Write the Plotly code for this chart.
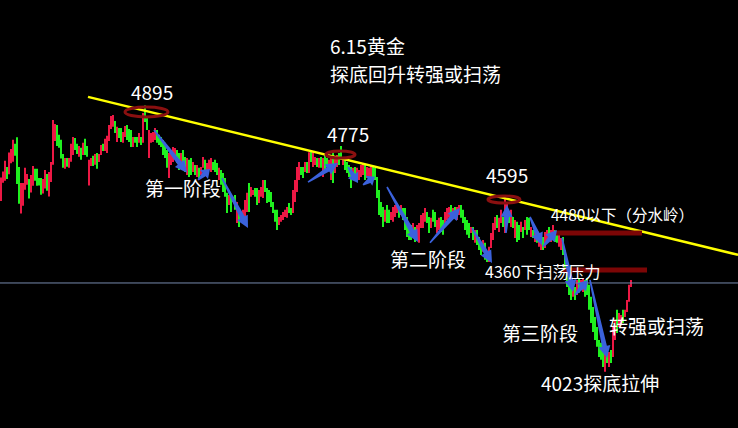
import math
import plotly.graph_objects as go

# ---------------- data ----------------
# bar highs / lows (price) for each bar, in time order
highs = [
    4660, 4679, 4714, 4694, 4741, 4752, 4782, 4769, 4790, 4694,
    4642, 4642, 4691, 4671, 4655, 4668, 4697, 4688, 4688, 4658,
    4658, 4655, 4684, 4671, 4678, 4710, 4846, 4833, 4830, 4798,
    4782, 4736, 4723, 4723, 4723, 4769, 4791, 4788, 4769, 4762,
    4756, 4772, 4785, 4762, 4717, 4723, 4730, 4736, 4739, 4736,
    4765, 4769, 4785, 4795, 4830, 4859, 4862, 4843, 4824, 4820,
    4820, 4807, 4827, 4830, 4817, 4814, 4791, 4791, 4791, 4804,
    4791, 4869, 4893, 4853, 4814, 4804, 4807, 4820, 4814, 4798,
    4791, 4781, 4772, 4749, 4739, 4749, 4759, 4755, 4749, 4739,
    4739, 4749, 4726, 4723, 4717, 4723, 4710, 4700, 4700, 4691,
    4694, 4726, 4717, 4707, 4717, 4723, 4710, 4717, 4707, 4691,
    4684, 4674, 4658, 4610, 4603, 4597, 4597, 4603, 4580, 4555,
    4545, 4555, 4587, 4610, 4642, 4629, 4619, 4626, 4626, 4619,
    4629, 4652, 4652, 4626, 4619, 4613, 4580, 4555, 4555, 4532,
    4538, 4548, 4555, 4564, 4577, 4561, 4619, 4652, 4694, 4710,
    4694, 4694, 4710, 4710, 4742, 4749, 4742, 4726, 4723, 4723,
    4726, 4723, 4733, 4723, 4717, 4733, 4739, 4726, 4733, 4739,
    4762, 4723, 4717, 4710, 4700, 4694, 4691, 4694, 4691, 4684,
    4700, 4707, 4700, 4694, 4691, 4700, 4694, 4691, 4661, 4619,
    4580, 4564, 4555, 4571, 4555, 4548, 4564, 4571, 4577, 4564,
    4571, 4561, 4561, 4532, 4499, 4506, 4512, 4499, 4506, 4512,
    4538, 4545, 4561, 4548, 4532, 4529, 4555, 4548, 4522, 4529,
    4532, 4522, 4548, 4561, 4564, 4571, 4561, 4564, 4564, 4571,
    4571, 4555, 4532, 4522, 4512, 4499, 4499, 4490, 4490, 4467,
    4448, 4457, 4448, 4402, 4435, 4480, 4512, 4532, 4538, 4529,
    4555, 4532, 4596, 4577, 4548, 4555, 4532, 4522, 4516, 4506,
    4516, 4499, 4522, 4532, 4529, 4499, 4490, 4496, 4480, 4467,
    4457, 4467, 4483, 4490, 4499, 4490, 4506, 4490, 4483, 4480,
    4464, 4467, 4425, 4383, 4350, 4328, 4318, 4305, 4328, 4334,
    4328, 4334, 4328, 4334, 4312, 4273, 4240, 4208, 4175, 4133,
    4124, 4101, 4111, 4091, 4094, 4101, 4175, 4198, 4231, 4221,
    4214, 4231, 4231, 4263, 4312, 4328,
]
lows = [
    4584, 4643, 4649, 4655, 4670, 4706, 4711, 4730, 4639, 4575,
    4543, 4568, 4620, 4636, 4592, 4611, 4633, 4649, 4633, 4634,
    4604, 4608, 4624, 4617, 4598, 4645, 4701, 4778, 4762, 4756,
    4721, 4691, 4688, 4695, 4691, 4711, 4733, 4749, 4736, 4727,
    4717, 4733, 4733, 4727, 4634, 4697, 4697, 4701, 4688, 4710,
    4733, 4746, 4746, 4739, 4778, 4817, 4824, 4804, 4775, 4788,
    4775, 4772, 4791, 4781, 4775, 4759, 4759, 4772, 4759, 4772,
    4765, 4772, 4840, 4814, 4723, 4772, 4775, 4781, 4772, 4765,
    4759, 4733, 4723, 4691, 4658, 4700, 4710, 4723, 4707, 4684,
    4694, 4694, 4678, 4668, 4661, 4668, 4678, 4668, 4661, 4658,
    4668, 4691, 4678, 4661, 4684, 4678, 4684, 4678, 4668, 4652,
    4636, 4613, 4597, 4545, 4571, 4548, 4580, 4555, 4512, 4499,
    4516, 4522, 4532, 4548, 4548, 4597, 4603, 4597, 4571, 4577,
    4597, 4593, 4613, 4577, 4580, 4564, 4545, 4516, 4490, 4506,
    4516, 4522, 4532, 4529, 4545, 4538, 4545, 4580, 4613, 4652,
    4668, 4658, 4678, 4674, 4674, 4710, 4694, 4700, 4694, 4691,
    4691, 4661, 4674, 4694, 4700, 4652, 4642, 4674, 4694, 4700,
    4717, 4700, 4684, 4674, 4661, 4626, 4658, 4652, 4645, 4652,
    4661, 4668, 4652, 4658, 4642, 4652, 4661, 4652, 4593, 4538,
    4532, 4499, 4516, 4512, 4512, 4522, 4516, 4532, 4545, 4529,
    4538, 4522, 4490, 4467, 4457, 4457, 4467, 4451, 4457, 4448,
    4496, 4496, 4516, 4512, 4480, 4496, 4516, 4499, 4480, 4490,
    4483, 4474, 4512, 4522, 4529, 4532, 4529, 4538, 4522, 4538,
    4529, 4512, 4490, 4474, 4464, 4480, 4457, 4448, 4441, 4425,
    4409, 4419, 4393, 4386, 4386, 4431, 4457, 4490, 4496, 4483,
    4512, 4499, 4480, 4548, 4512, 4499, 4496, 4464, 4451, 4457,
    4483, 4464, 4490, 4474, 4490, 4467, 4464, 4451, 4448, 4435,
    4425, 4425, 4431, 4448, 4457, 4451, 4464, 4451, 4448, 4435,
    4425, 4409, 4350, 4305, 4279, 4263, 4273, 4263, 4279, 4286,
    4295, 4289, 4273, 4279, 4231, 4188, 4159, 4133, 4111, 4078,
    4069, 4046, 4030, 4059, 4046, 4059, 4078, 4133, 4156, 4175,
    4182, 4188, 4208, 4224, 4257, 4305,
]
# R = rising bar (red), G = falling bar (green)
directions = (
    "RRRGRRRGGG" "RRRRGRRGGG" "GRRGRRRRGG" "GGRGRRRGGR" "GRGGRRGRGR"
    "RGRRRRRGRG" "GRRGGGRGGR" "GRGGRRRRGG" "GGGGRRRRGG" "RGGRGGRGRG"
    "RRGRRRGGGR" "GGGGRGRGRG" "RRRRGRRGGR" "RRGGGGGGGR" "RRRRGGRRRR"
    "GGRGRGRRGR" "GRGGRRGRRG" "GRGGGGRGRR" "RRGRRRGGGG" "GGRGGRRRRG"
    "RGGGGGRGRR" "RRRGGRGGRR" "GGRRRGRGRR" "GGGGGRGRGG" "GRGGRRRRGR"
    "RGRRGRGRGG" "RGRGGRGRGR" "RGRRGRRGGR" "RGGGGGRGRG" "RRGGGGGGGG"
    "GGRGRGRRGR" "RGRRRR"
)

trend_start = (43.5, 4921)     # yellow trend line (bar index, price)
trend_end = (368.5, 4409)
last_price = 4318
level_4480 = 4480
level_4360 = 4360

# blue stage arrows: (tail, head) as (bar index, price)
arrows = [
    ((76.5, 4814), (93, 4675)),
    ((98.5, 4652), (104.5, 4687)),
    ((110.5, 4658), (123.5, 4496)),
    ((153.5, 4645), (168.5, 4707)),
    ((173.5, 4694), (178.5, 4642)),
    ((181, 4636), (187, 4662)),
    ((193, 4629), (208.5, 4451)),
    ((214.5, 4448), (229.5, 4561)),
    ((235.5, 4496), (245.5, 4383)),
    ((252.5, 4480), (253, 4571)),
    ((264.5, 4532), (270.5, 4441)),
    ((271, 4435), (278, 4490)),
    ((280.5, 4464), (286, 4289)),
    ((287, 4279), (293.5, 4328)),
    ((294.5, 4328), (303, 4075)),
]

# ---------------- figure ----------------
RED = "#ec1844"
GREEN = "#1ff01f"
X_RANGE = [-0.5, 368.5]
Y_RANGE = [3848, 5235]
W, H = 738, 428

xs = list(range(len(highs)))
up_x = [i for i in xs if directions[i] == "R"]
dn_x = [i for i in xs if directions[i] == "G"]

fig = go.Figure()
for sel, col in ((up_x, RED), (dn_x, GREEN)):
    fig.add_trace(go.Bar(
        x=sel,
        base=[lows[i] for i in sel],
        y=[highs[i] - lows[i] for i in sel],
        width=0.6,
        marker=dict(color=col, line=dict(width=0)),
        hoverinfo="skip",
        showlegend=False,
    ))

shapes = []
# current price line
shapes.append(dict(type="line", xref="paper", x0=0, x1=1, yref="y",
                   y0=last_price, y1=last_price,
                   line=dict(color="#7589ad", width=1)))
# yellow trend line
shapes.append(dict(type="line", xref="x", yref="y",
                   x0=trend_start[0], y0=trend_start[1],
                   x1=trend_end[0], y1=trend_end[1],
                   line=dict(color="#ffff00", width=2.5)))
# dark red level lines
shapes.append(dict(type="line", xref="x", yref="y", x0=277, x1=320.5,
                   y0=level_4480, y1=level_4480,
                   line=dict(color="#7c0606", width=5)))
shapes.append(dict(type="line", xref="x", yref="y", x0=281, x1=323,
                   y0=level_4360, y1=level_4360,
                   line=dict(color="#7c0606", width=5)))
# ellipses at highs
for x0, x1, y0, y1 in ((62, 83.5, 4856, 4888),
                       (162.5, 177, 4723, 4746),
                       (243.5, 259.5, 4577, 4600)):
    shapes.append(dict(type="circle", xref="x", yref="y",
                       x0=x0, x1=x1, y0=y0, y1=y1,
                       line=dict(color="#8a1010", width=3)))

# tapered arrows drawn as filled paths (computed in screen space so the
# taper is even, then mapped back to data units)
sx = W / (X_RANGE[1] - X_RANGE[0])
sy = H / (Y_RANGE[1] - Y_RANGE[0])


def to_px(pt):
    return ((pt[0] - X_RANGE[0]) * sx, (Y_RANGE[1] - pt[1]) * sy)


def to_data(px):
    return (px[0] / sx + X_RANGE[0], Y_RANGE[1] - px[1] / sy)


for tail, head in arrows:
    tx, ty = to_px(tail)
    hx, hy = to_px(head)
    length = math.hypot(hx - tx, hy - ty)
    dx, dy = (hx - tx) / length, (hy - ty) / length
    nx, ny = -dy, dx
    hl = min(12.0, 0.5 * length)
    bx, by = hx - dx * hl, hy - dy * hl
    wt, ws, wh = 1.6, 5.0, 12.0
    pts = [
        (tx + nx * wt / 2, ty + ny * wt / 2),
        (bx + nx * ws / 2, by + ny * ws / 2),
        (bx + nx * wh / 2, by + ny * wh / 2),
        (hx, hy),
        (bx - nx * wh / 2, by - ny * wh / 2),
        (bx - nx * ws / 2, by - ny * ws / 2),
        (tx - nx * wt / 2, ty - ny * wt / 2),
    ]
    dpts = [to_data(p) for p in pts]
    path = "M " + " L ".join(f"{x:.3f},{y:.2f}" for x, y in dpts) + " Z"
    shapes.append(dict(type="path", xref="x", yref="y", path=path,
                       fillcolor="#3b62dc", line=dict(width=0)))

FONT = "Noto Sans CJK SC"
annotations = []


def label(text, x, y, size=19, xanchor="center"):
    annotations.append(dict(text=text, x=x, y=y, xref="x", yref="y",
                            showarrow=False, xanchor=xanchor, yanchor="middle",
                            font=dict(family=FONT, size=size, color="white")))


label("4895", 75.5, 4937)
label("4775", 173.5, 4801)
label("4595", 253, 4671)
label("6.15黄金", 163.5, 5086, xanchor="left")
label("探底回升转强或扫荡", 163.5, 4998, xanchor="left")
label("第一阶段", 91, 4626)
label("第二阶段", 213.5, 4396)
label("4480以下（分水岭）", 274, 4542, size=15.5, xanchor="left")
label("4360下扫荡压力", 241, 4357, size=16, xanchor="left")
label("第三阶段", 269.5, 4156)
label("转强或扫荡", 303, 4179, xanchor="left")
label("4023探底拉伸", 299.5, 3997)

fig.update_layout(
    width=W, height=H,
    margin=dict(l=0, r=0, t=0, b=0),
    paper_bgcolor="black", plot_bgcolor="black",
    barmode="overlay",
    showlegend=False,
    shapes=shapes,
    annotations=annotations,
    xaxis=dict(range=X_RANGE, visible=False, fixedrange=True),
    yaxis=dict(range=Y_RANGE, visible=False, fixedrange=True),
    hovermode=False,
)

fig.write_html(
    "out.html",
    config={"displayModeBar": False},
    post_script="document.body.style.margin='0';"
                "document.body.style.background='black';"
                "document.body.style.overflow='hidden';",
)
